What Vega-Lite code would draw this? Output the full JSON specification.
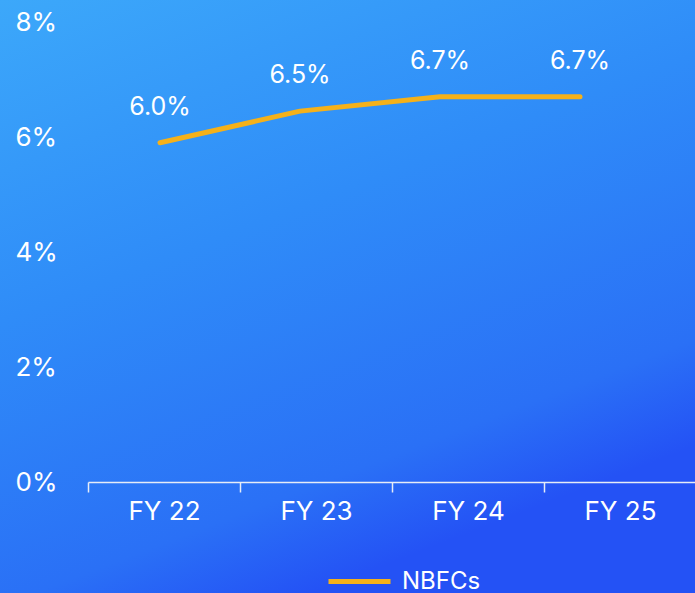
{
  "$schema": "https://vega.github.io/schema/vega-lite/v6.json",
  "width": 695,
  "height": 593,
  "autosize": {"type": "none"},
  "padding": 0,
  "background": "#2a78f6",
  "view": {
    "stroke": null,
    "fill": {
      "gradient": "linear",
      "x1": 0, "y1": 0, "x2": 0.45, "y2": 1,
      "stops": [
        {"offset": 0, "color": "#3ca8fa"},
        {"offset": 0.45, "color": "#2f8cf8"},
        {"offset": 0.85, "color": "#2a70f6"},
        {"offset": 1.1, "color": "#2452f5"}
      ]
    }
  },
  "config": {
    "font": "Inter",
    "axis": {"labelFont": "Inter", "labelColor": "#ffffff", "title": null, "grid": false},
    "legend": {"labelFont": "Inter"}
  },
  "data": {
    "values": [
      {"year": "FY 22", "value": 5.9, "label": "6.0%", "series": "NBFCs"},
      {"year": "FY 23", "value": 6.45, "label": "6.5%", "series": "NBFCs"},
      {"year": "FY 24", "value": 6.7, "label": "6.7%", "series": "NBFCs"},
      {"year": "FY 25", "value": 6.7, "label": "6.7%", "series": "NBFCs"}
    ]
  },
  "resolve": {"scale": {"x": "independent"}},
  "layer": [
    {
      "mark": {"type": "point", "opacity": 0},
      "encoding": {
        "x": {
          "field": "year", "type": "nominal",
          "scale": {"type": "band", "range": [88, 696], "paddingInner": 0, "paddingOuter": 0},
          "axis": {
            "orient": "bottom", "offset": -111, "tickBand": "extent",
            "domainColor": "#e6ecf7", "domainWidth": 1.5,
            "tickColor": "#e6ecf7", "tickWidth": 1.5, "tickSize": 10,
            "labelFontSize": 26, "labelPadding": 6, "labelAngle": 0
          }
        },
        "y": {
          "field": "value", "type": "quantitative",
          "scale": {"domain": [0, 8], "range": [482, 22]},
          "axis": {
            "values": [0, 2, 4, 6, 8],
            "labelExpr": "datum.value + '%'",
            "domain": false, "ticks": false,
            "labelAlign": "left", "labelPadding": -15, "labelBaseline": "middle",
            "labelFontSize": 26
          }
        }
      }
    },
    {
      "encoding": {
        "x": {
          "field": "year", "type": "nominal",
          "scale": {"type": "point", "range": [160, 580], "padding": 0},
          "axis": null
        },
        "y": {"field": "value", "type": "quantitative"}
      },
      "layer": [
        {
          "mark": {"type": "line", "strokeWidth": 5, "strokeCap": "round", "strokeJoin": "round"},
          "encoding": {
            "color": {
              "field": "series", "type": "nominal",
              "scale": {"range": ["#f5b11a"]},
              "legend": {
                "title": null, "orient": "none", "legendX": 326, "legendY": 548,
                "symbolType": "stroke", "symbolSize": 3844, "symbolStrokeWidth": 5,
                "labelFontSize": 24, "labelColor": "#ffffff", "labelOffset": 9,
                "padding": 0
              }
            }
          }
        },
        {
          "mark": {"type": "text", "dy": -36, "fontSize": 25, "color": "#ffffff", "font": "Inter"},
          "encoding": {"text": {"field": "label"}}
        }
      ]
    }
  ]
}
